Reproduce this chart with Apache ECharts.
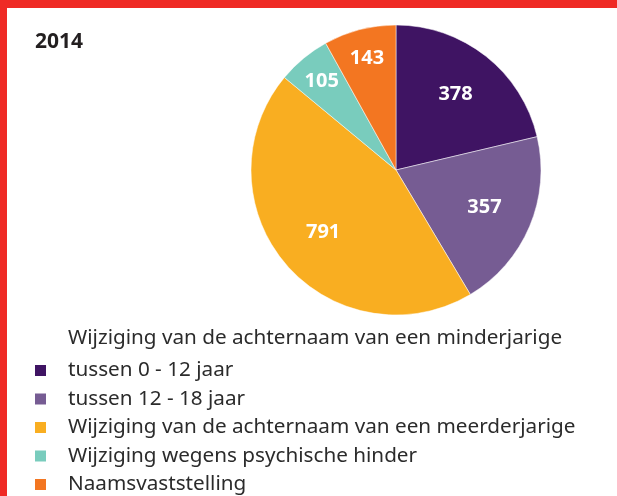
<!DOCTYPE html>
<html>
<head>
<meta charset="utf-8">
<script src="https://cdn.jsdelivr.net/npm/echarts@6/dist/echarts.min.js"></script>
<style>
html, body { margin: 0; padding: 0; background: #fff; }
#chart { width: 617px; height: 496px; }
</style>
</head>
<body>
<div id="chart"></div>
<script>
const categories = [
  'tussen 0 - 12 jaar',
  'tussen 12 - 18 jaar',
  'Wijziging van de achternaam van een meerderjarige',
  'Wijziging wegens psychische hinder',
  'Naamsvaststelling'
]
const values = [378, 357, 791, 105, 143]
const colors = ['#3f1463', '#765c93', '#f9ae21', '#79ccbd', '#f37621']
// small slices get their label pushed a bit further out
const labelOffsets = [[0, 0], [0, 0], [0, 0], [-13, -15], [-5, -19]]
const year = '2014'
const groupTitle = 'Wijziging van de achternaam van een minderjarige'

const font = '"Noto Sans", sans-serif'

let chart = echarts.init(document.getElementById('chart'))
let option = {
  animation: false,
  color: colors,
  title: {
    text: year,
    left: 30,
    top: 27,
    textStyle: {
      fontFamily: font,
      fontSize: 21,
      fontWeight: 'bold',
      color: '#231f20'
    }
  },
  legend: {
    orient: 'vertical',
    left: 28,
    top: 355,
    height: 140,
    itemWidth: 13,
    itemHeight: 13,
    itemGap: 7.5,
    icon: 'rect',
    selectedMode: false,
    data: categories,
    textStyle: {
      fontFamily: font,
      fontSize: 20.7,
      color: '#2b2b2b',
      padding: [0, 0, 0, 16]
    }
  },
  graphic: [
    { type: 'rect', left: 0, top: 0, shape: { width: 617, height: 8 }, style: { fill: '#ef2a25' } },
    { type: 'rect', left: 0, top: 0, shape: { width: 7, height: 496 }, style: { fill: '#ef2a25' } },
    {
      type: 'text',
      left: 68,
      top: 328,
      style: {
        text: groupTitle,
        fontFamily: font,
        fontSize: 20.7,
        fill: '#2b2b2b'
      }
    }
  ],
  series: [
    {
      type: 'pie',
      center: [396, 170],
      radius: [0, 145],
      startAngle: 90,
      clockwise: true,
      silent: true,
      label: { show: false },
      labelLine: { show: false },
      itemStyle: { borderColor: '#fff', borderWidth: 0.5 },
      data: categories.map((c, i) => ({ name: c, value: values[i] }))
    },
    {
      // invisible ring only used to place the value labels
      type: 'pie',
      center: [396, 170],
      radius: [86, 100],
      startAngle: 90,
      clockwise: true,
      silent: true,
      legendHoverLink: false,
      itemStyle: { color: 'rgba(0,0,0,0)' },
      label: {
        show: true,
        position: 'inside',
        formatter: '{c}',
        color: '#fff',
        fontFamily: font,
        fontSize: 20,
        fontWeight: 'bold'
      },
      labelLine: { show: false },
      data: categories.map((c, i) => ({
        name: c + ' ',
        value: values[i],
        label: { offset: labelOffsets[i] }
      }))
    }
  ]
}
chart.setOption(option)
</script>
</body>
</html>
